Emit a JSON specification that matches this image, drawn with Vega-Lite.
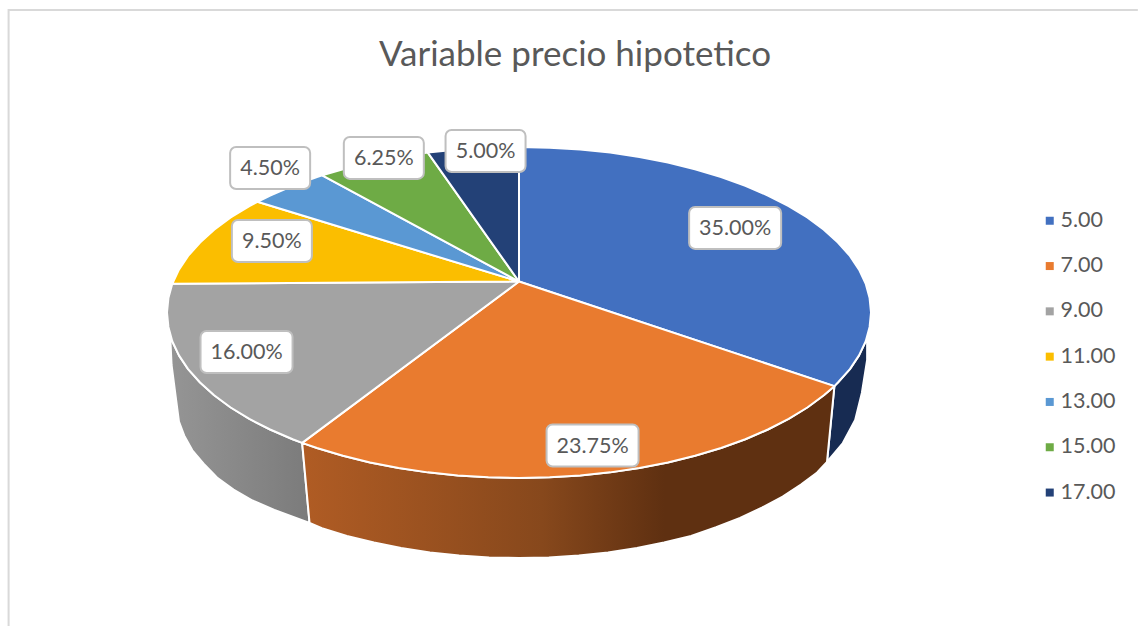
{"$schema":"https://vega.github.io/schema/vega-lite/v6.json","width":1138,"height":626,"padding":0,"autosize":{"type":"none"},"background":"white","view":{"stroke":null},
"title":{"text":"Variable precio hipotetico","anchor":"middle","frame":"group","offset":-73,"dx":6,"font":"Lato","fontSize":35,"fontWeight":"normal","color":"#595959"},
"config":{"font":"Lato"},
"datasets":{
"frame":[{"x":-1.45,"y":-1.894,"i":0},{"x":-1.45,"y":1.828,"i":1},{"x":1.758,"y":1.828,"i":2}],
"labels":[{"share":0.35,"x":0.614,"y":0.511},{"share":0.2375,"x":0.209,"y":-0.804},{"share":0.16,"x":-0.774,"y":-0.239},{"share":0.095,"x":-0.702,"y":0.432},{"share":0.045,"x":-0.707,"y":0.873},{"share":0.0625,"x":-0.384,"y":0.934},{"share":0.05,"x":-0.095,"y":0.976}],
"wallGrey":[{"i":0,"x":-0.991,"y":-0.136},{"i":1,"x":-0.985,"y":-0.174},{"i":2,"x":-0.966,"y":-0.259},{"i":3,"x":-0.94,"y":-0.342},{"i":4,"x":-0.906,"y":-0.423},{"i":5,"x":-0.866,"y":-0.5},{"i":6,"x":-0.819,"y":-0.574},{"i":7,"x":-0.766,"y":-0.643},{"i":8,"x":-0.707,"y":-0.707},{"i":9,"x":-0.643,"y":-0.766},{"i":10,"x":-0.616,"y":-0.788},{"i":11,"x":-0.595,"y":-1.272},{"i":12,"x":-0.695,"y":-1.193},{"i":13,"x":-0.757,"y":-1.136},{"i":14,"x":-0.811,"y":-1.07},{"i":15,"x":-0.858,"y":-0.997},{"i":16,"x":-0.896,"y":-0.914},{"i":17,"x":-0.928,"y":-0.833},{"i":18,"x":-0.951,"y":-0.744},{"i":19,"x":-0.966,"y":-0.66},{"i":20,"x":-0.974,"y":-0.529},{"i":21,"x":-0.987,"y":-0.317},{"i":22,"x":-0.991,"y":-0.136}],
"wallOrange":[{"i":0,"x":0.896,"y":-0.445},{"i":1,"x":0.866,"y":-0.5},{"i":2,"x":0.819,"y":-0.574},{"i":3,"x":0.766,"y":-0.643},{"i":4,"x":0.707,"y":-0.707},{"i":5,"x":0.643,"y":-0.766},{"i":6,"x":0.574,"y":-0.819},{"i":7,"x":0.5,"y":-0.866},{"i":8,"x":0.423,"y":-0.906},{"i":9,"x":0.342,"y":-0.94},{"i":10,"x":0.259,"y":-0.966},{"i":11,"x":0.174,"y":-0.985},{"i":12,"x":0.087,"y":-0.996},{"i":13,"x":0,"y":-1},{"i":14,"x":-0.087,"y":-0.996},{"i":15,"x":-0.174,"y":-0.985},{"i":16,"x":-0.259,"y":-0.966},{"i":17,"x":-0.342,"y":-0.94},{"i":18,"x":-0.423,"y":-0.906},{"i":19,"x":-0.5,"y":-0.866},{"i":20,"x":-0.574,"y":-0.819},{"i":21,"x":-0.616,"y":-0.788},{"i":22,"x":-0.595,"y":-1.272},{"i":23,"x":-0.56,"y":-1.303},{"i":24,"x":-0.489,"y":-1.35},{"i":25,"x":-0.412,"y":-1.39},{"i":26,"x":-0.335,"y":-1.423},{"i":27,"x":-0.253,"y":-1.45},{"i":28,"x":-0.17,"y":-1.468},{"i":29,"x":-0.085,"y":-1.48},{"i":30,"x":0,"y":-1.483},{"i":31,"x":0.085,"y":-1.48},{"i":32,"x":0.17,"y":-1.468},{"i":33,"x":0.253,"y":-1.45},{"i":34,"x":0.335,"y":-1.423},{"i":35,"x":0.412,"y":-1.39},{"i":36,"x":0.489,"y":-1.35},{"i":37,"x":0.56,"y":-1.297},{"i":38,"x":0.628,"y":-1.241},{"i":39,"x":0.69,"y":-1.179},{"i":40,"x":0.749,"y":-1.112},{"i":41,"x":0.801,"y":-1.04},{"i":42,"x":0.847,"y":-0.967},{"i":43,"x":0.875,"y":-0.903},{"i":44,"x":0.896,"y":-0.445}],
"wallNavy":[{"i":0,"x":0.896,"y":-0.445},{"i":1,"x":0.906,"y":-0.423},{"i":2,"x":0.94,"y":-0.342},{"i":3,"x":0.966,"y":-0.259},{"i":4,"x":0.985,"y":-0.174},{"i":5,"x":0.989,"y":-0.148},{"i":6,"x":0.989,"y":-0.287},{"i":7,"x":0.974,"y":-0.486},{"i":8,"x":0.955,"y":-0.65},{"i":9,"x":0.92,"y":-0.789},{"i":10,"x":0.875,"y":-0.903},{"i":11,"x":0.896,"y":-0.445}],
"top":[
{"s":"5.00","i":0,"x":0,"y":0.187},{"s":"5.00","i":1,"x":0,"y":1},{"s":"5.00","i":2,"x":0.087,"y":0.996},{"s":"5.00","i":3,"x":0.174,"y":0.985},{"s":"5.00","i":4,"x":0.259,"y":0.966},{"s":"5.00","i":5,"x":0.342,"y":0.94},{"s":"5.00","i":6,"x":0.423,"y":0.906},{"s":"5.00","i":7,"x":0.5,"y":0.866},{"s":"5.00","i":8,"x":0.574,"y":0.819},{"s":"5.00","i":9,"x":0.643,"y":0.766},{"s":"5.00","i":10,"x":0.707,"y":0.707},{"s":"5.00","i":11,"x":0.766,"y":0.643},{"s":"5.00","i":12,"x":0.819,"y":0.574},{"s":"5.00","i":13,"x":0.866,"y":0.5},{"s":"5.00","i":14,"x":0.906,"y":0.423},{"s":"5.00","i":15,"x":0.94,"y":0.342},{"s":"5.00","i":16,"x":0.966,"y":0.259},{"s":"5.00","i":17,"x":0.985,"y":0.174},{"s":"5.00","i":18,"x":0.996,"y":0.087},{"s":"5.00","i":19,"x":1,"y":0},{"s":"5.00","i":20,"x":0.996,"y":-0.087},{"s":"5.00","i":21,"x":0.985,"y":-0.174},{"s":"5.00","i":22,"x":0.966,"y":-0.259},{"s":"5.00","i":23,"x":0.94,"y":-0.342},{"s":"5.00","i":24,"x":0.906,"y":-0.423},{"s":"5.00","i":25,"x":0.896,"y":-0.445},{"s":"5.00","i":26,"x":0,"y":0.187},
{"s":"7.00","i":0,"x":0,"y":0.187},{"s":"7.00","i":1,"x":0.896,"y":-0.445},{"s":"7.00","i":2,"x":0.866,"y":-0.5},{"s":"7.00","i":3,"x":0.819,"y":-0.574},{"s":"7.00","i":4,"x":0.766,"y":-0.643},{"s":"7.00","i":5,"x":0.707,"y":-0.707},{"s":"7.00","i":6,"x":0.643,"y":-0.766},{"s":"7.00","i":7,"x":0.574,"y":-0.819},{"s":"7.00","i":8,"x":0.5,"y":-0.866},{"s":"7.00","i":9,"x":0.423,"y":-0.906},{"s":"7.00","i":10,"x":0.342,"y":-0.94},{"s":"7.00","i":11,"x":0.259,"y":-0.966},{"s":"7.00","i":12,"x":0.174,"y":-0.985},{"s":"7.00","i":13,"x":0.087,"y":-0.996},{"s":"7.00","i":14,"x":0,"y":-1},{"s":"7.00","i":15,"x":-0.087,"y":-0.996},{"s":"7.00","i":16,"x":-0.174,"y":-0.985},{"s":"7.00","i":17,"x":-0.259,"y":-0.966},{"s":"7.00","i":18,"x":-0.342,"y":-0.94},{"s":"7.00","i":19,"x":-0.423,"y":-0.906},{"s":"7.00","i":20,"x":-0.5,"y":-0.866},{"s":"7.00","i":21,"x":-0.574,"y":-0.819},{"s":"7.00","i":22,"x":-0.616,"y":-0.788},{"s":"7.00","i":23,"x":0,"y":0.187},
{"s":"9.00","i":0,"x":0,"y":0.187},{"s":"9.00","i":1,"x":-0.616,"y":-0.788},{"s":"9.00","i":2,"x":-0.643,"y":-0.766},{"s":"9.00","i":3,"x":-0.707,"y":-0.707},{"s":"9.00","i":4,"x":-0.766,"y":-0.643},{"s":"9.00","i":5,"x":-0.819,"y":-0.574},{"s":"9.00","i":6,"x":-0.866,"y":-0.5},{"s":"9.00","i":7,"x":-0.906,"y":-0.423},{"s":"9.00","i":8,"x":-0.94,"y":-0.342},{"s":"9.00","i":9,"x":-0.966,"y":-0.259},{"s":"9.00","i":10,"x":-0.985,"y":-0.174},{"s":"9.00","i":11,"x":-0.996,"y":-0.087},{"s":"9.00","i":12,"x":-1,"y":0},{"s":"9.00","i":13,"x":-0.996,"y":0.087},{"s":"9.00","i":14,"x":-0.985,"y":0.174},{"s":"9.00","i":15,"x":0,"y":0.187},
{"s":"11.00","i":0,"x":0,"y":0.187},{"s":"11.00","i":1,"x":-0.985,"y":0.174},{"s":"11.00","i":2,"x":-0.966,"y":0.259},{"s":"11.00","i":3,"x":-0.94,"y":0.342},{"s":"11.00","i":4,"x":-0.906,"y":0.423},{"s":"11.00","i":5,"x":-0.866,"y":0.5},{"s":"11.00","i":6,"x":-0.819,"y":0.574},{"s":"11.00","i":7,"x":-0.766,"y":0.643},{"s":"11.00","i":8,"x":-0.743,"y":0.669},{"s":"11.00","i":9,"x":0,"y":0.187},
{"s":"13.00","i":0,"x":0,"y":0.187},{"s":"13.00","i":1,"x":-0.743,"y":0.669},{"s":"13.00","i":2,"x":-0.707,"y":0.707},{"s":"13.00","i":3,"x":-0.643,"y":0.766},{"s":"13.00","i":4,"x":-0.574,"y":0.819},{"s":"13.00","i":5,"x":-0.559,"y":0.829},{"s":"13.00","i":6,"x":0,"y":0.187},
{"s":"15.00","i":0,"x":0,"y":0.187},{"s":"15.00","i":1,"x":-0.559,"y":0.829},{"s":"15.00","i":2,"x":-0.5,"y":0.866},{"s":"15.00","i":3,"x":-0.423,"y":0.906},{"s":"15.00","i":4,"x":-0.342,"y":0.94},{"s":"15.00","i":5,"x":-0.259,"y":0.966},{"s":"15.00","i":6,"x":0,"y":0.187},
{"s":"17.00","i":0,"x":0,"y":0.187},{"s":"17.00","i":1,"x":-0.259,"y":0.966},{"s":"17.00","i":2,"x":-0.174,"y":0.985},{"s":"17.00","i":3,"x":-0.087,"y":0.996},{"s":"17.00","i":4,"x":0,"y":1},{"s":"17.00","i":5,"x":0,"y":0.187}
]},
"encoding":{
"x":{"field":"x","type":"quantitative","axis":null,"scale":{"domain":[-1.4744,1.7585],"nice":false,"zero":false}},
"y":{"field":"y","type":"quantitative","axis":null,"scale":{"domain":[-1.8943,1.8882],"nice":false,"zero":false}}},
"layer":[
{"data":{"name":"frame"},"mark":{"type":"line","stroke":"#D9D9D9","strokeWidth":2},"encoding":{"order":{"field":"i"}}},
{"data":{"name":"wallGrey"},"mark":{"type":"line","stroke":"white","strokeWidth":2,"strokeJoin":"round","fill":{"gradient":"linear","x1":0,"y1":0,"x2":1,"y2":0,"stops":[{"offset":0,"color":"#959595"},{"offset":1,"color":"#7B7B7B"}]}},"encoding":{"order":{"field":"i"}}},
{"data":{"name":"wallNavy"},"mark":{"type":"line","stroke":"white","strokeWidth":2,"strokeJoin":"round","fill":"#172B52"},"encoding":{"order":{"field":"i"}}},
{"data":{"name":"wallOrange"},"mark":{"type":"line","stroke":"white","strokeWidth":2,"strokeJoin":"round","fill":{"gradient":"linear","x1":0,"y1":0,"x2":1,"y2":0,"stops":[{"offset":0,"color":"#B05C24"},{"offset":0.45,"color":"#87481C"},{"offset":0.68,"color":"#5F3011"},{"offset":1,"color":"#5F3011"}]}},"encoding":{"order":{"field":"i"}}},
{"data":{"name":"top"},"mark":{"type":"line","stroke":"white","strokeWidth":2,"strokeJoin":"round"},"encoding":{"order":{"field":"i"},"fill":{"field":"s","type":"nominal","scale":{"domain":["5.00","7.00","9.00","11.00","13.00","15.00","17.00"],"range":["#4270C0","#E97B2F","#A3A3A3","#FBBE00","#5A98D3","#6EAB45","#234177"]},"legend":{"orient":"none","legendX":1039,"legendY":210,"title":null,"symbolType":"square","symbolSize":64,"symbolStrokeWidth":0,"labelFont":"Lato","labelFontSize":21.5,"labelColor":"#595959","labelOffset":0,"rowPadding":22.3}}}},
{"data":{"name":"labels"},"transform":[{"filter":"datum.share<0.15"}],"mark":{"type":"rect","width":80,"height":42,"cornerRadius":6,"fill":"white","stroke":"#BFBFBF","strokeWidth":2}},
{"data":{"name":"labels"},"transform":[{"filter":"datum.share>=0.15"}],"mark":{"type":"rect","width":92,"height":42,"cornerRadius":6,"fill":"white","stroke":"#BFBFBF","strokeWidth":2}},
{"data":{"name":"labels"},"mark":{"type":"text","font":"Lato","fontSize":21.5,"color":"#595959","dy":1},"encoding":{"text":{"field":"share","type":"quantitative","format":".2%"}}}
]}
